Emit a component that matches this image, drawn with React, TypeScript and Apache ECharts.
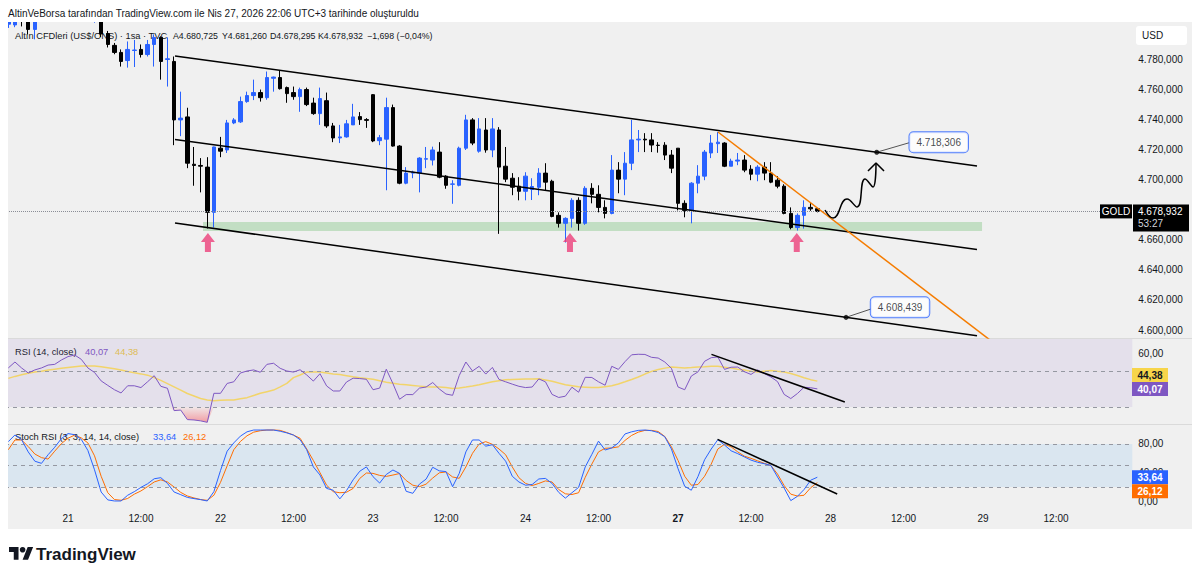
import React, { useEffect, useRef } from "react";
import * as echarts from "echarts";

// ---------------- time axis (bar index 0 = 21 Apr, first hourly bar) ----------------
const FIRST_BAR = -9;
const LAST_SLOT = 160;
const timeTickBars = [0, 11, 23, 34, 46, 57, 69, 80, 92, 103, 115, 126, 138, 149];
const timeTickLabels = ["21", "12:00", "22", "12:00", "23", "12:00", "24", "12:00", "27", "12:00", "28", "12:00", "29", "12:00"];
const boldTickLabels = ["27"];

// ---------------- candles (bars -9 .. 113) ----------------
const barOpen = [
  4803.5, 4803, 4815, 4815, 4800, 4808, 4815, 4822, 4818, 4824,
  4828, 4825, 4820, 4813, 4815, 4797.3, 4789.4, 4784.7, 4779.3, 4786,
  4786.7, 4783.3, 4790, 4794.7, 4780, 4778.7, 4739.8, 4741.8, 4710.3, 4709.5,
  4708.4, 4678.3, 4721, 4719.8, 4737.8, 4738.5, 4752, 4756, 4758, 4754.6,
  4767.5, 4768, 4761.3, 4758, 4755.3, 4760, 4751, 4744, 4752.6, 4735.8,
  4727.8, 4728.5, 4736.5, 4742, 4740, 4756.6, 4726, 4727, 4748, 4722.4,
  4697.7, 4704.4, 4704.4, 4713.7, 4713.1, 4718.4, 4702.4, 4697, 4696.3, 4721,
  4739.8, 4719, 4733.1, 4719.8, 4733.1, 4709, 4701, 4695.7, 4692.3, 4693.5,
  4695, 4704.4, 4699, 4676.3, 4671, 4674.3, 4686.3, 4671, 4694.3, 4690.3,
  4681.6, 4677.6, 4706.4, 4700.4, 4711, 4726.5, 4727, 4726.5, 4723, 4723,
  4716.4, 4721, 4684.3, 4679.6, 4697.7, 4702.4, 4717.8, 4724, 4724.4, 4709,
  4712.4, 4713.1, 4707, 4703.7, 4708.4, 4704.4, 4699.7, 4695.7, 4677.6, 4668.2,
  4676.3, 4681.6, 4680.725,
];
const barHigh = [
  4809, 4810, 4818, 4818, 4812, 4820, 4826, 4828, 4829, 4833,
  4832, 4829, 4823, 4818, 4817, 4799, 4791, 4786.7, 4792, 4793,
  4790, 4793, 4796.7, 4795.4, 4794.7, 4782, 4758.6, 4747.9, 4721.8, 4714.4,
  4715, 4722, 4728.5, 4739.8, 4741, 4755.3, 4758.6, 4766.6, 4760, 4772,
  4768.6, 4772.6, 4762, 4762, 4761.3, 4761.3, 4754.6, 4761.3, 4758, 4737.8,
  4736.5, 4739.8, 4750.5, 4745, 4741, 4757, 4729.8, 4754.6, 4750, 4723,
  4708.4, 4706, 4715, 4721.8, 4722, 4725, 4703, 4699.7, 4722, 4743.2,
  4741, 4741, 4741, 4741, 4735, 4721.8, 4704.4, 4701.7, 4705, 4701,
  4707.7, 4711, 4700, 4678.3, 4675, 4687.7, 4688.3, 4695.7, 4697.7, 4696.3,
  4686.3, 4716.4, 4711.7, 4718.4, 4739.8, 4733.1, 4731, 4731, 4725, 4725,
  4719.8, 4721, 4686.3, 4698.4, 4709.7, 4719.8, 4729.8, 4731.8, 4725, 4714,
  4717.8, 4716.4, 4709.7, 4709.7, 4711.7, 4711.7, 4702.4, 4697, 4681.6, 4677.6,
  4686.3, 4684.9, 4681.26,
];
const barLow = [
  4801, 4801.5, 4802, 4796.7, 4793.4, 4806.5, 4811, 4814, 4815, 4820,
  4819, 4814, 4808, 4804.5, 4795, 4788, 4783.5, 4775.3, 4774.6, 4775,
  4781.3, 4782, 4775.3, 4766.6, 4762, 4723, 4729, 4707.7, 4696, 4691.6,
  4667.6, 4668.2, 4715, 4717.8, 4737, 4737.8, 4751.2, 4753, 4752, 4753.2,
  4758.6, 4760, 4751.2, 4753.2, 4745.2, 4749, 4743.2, 4736.5, 4734.5, 4725,
  4724.4, 4728, 4736.5, 4736.5, 4734.5, 4725, 4723, 4693, 4722, 4697,
  4697, 4701, 4691.6, 4707.7, 4709.5, 4701, 4694, 4684, 4695.6, 4719.8,
  4723, 4718, 4718, 4715, 4664, 4698.4, 4689.7, 4686.3, 4686.3, 4686.5,
  4689.7, 4693, 4675, 4668.2, 4658.2, 4668.2, 4666.2, 4670, 4684.3, 4678.3,
  4674.3, 4677, 4691, 4689.7, 4706.4, 4718.4, 4718.4, 4718.4, 4718, 4713.1,
  4704.4, 4679.6, 4675, 4671, 4691, 4699.7, 4714.4, 4717.8, 4708.4, 4709,
  4709.7, 4705, 4699.7, 4699, 4699.7, 4697.7, 4694.3, 4677, 4667, 4666.2,
  4667.5, 4679.3, 4678.295,
];
const barClose = [
  4805.5, 4806, 4812, 4800, 4808, 4815, 4822, 4818, 4824, 4828,
  4825, 4820, 4813, 4815, 4797, 4790, 4784.7, 4778.7, 4786.7, 4786.3,
  4783.3, 4790, 4794.7, 4778.7, 4780.5, 4739.8, 4741, 4711, 4709.5, 4709,
  4678.3, 4721.8, 4719, 4737.8, 4739.8, 4752, 4756, 4758, 4754.6, 4768,
  4768.3, 4760.6, 4757.3, 4755.3, 4760, 4750, 4744, 4754, 4735.8, 4727.8,
  4728.5, 4737.2, 4741.8, 4740, 4739.5, 4725.8, 4728, 4748, 4722.4, 4697.7,
  4704.4, 4705, 4714.4, 4714, 4719.8, 4701.7, 4696.3, 4697.2, 4721, 4739.8,
  4724.4, 4733.8, 4719.8, 4733.8, 4708.4, 4700.4, 4695, 4692.3, 4702.4, 4695.5,
  4704.4, 4698.4, 4675.6, 4671, 4674.3, 4686.3, 4671, 4694.3, 4690.3, 4681.6,
  4677.6, 4706.4, 4700.4, 4711, 4726.5, 4727, 4726.5, 4723.1, 4722.8, 4716.4,
  4707.7, 4684.3, 4679.6, 4697.7, 4702.4, 4718.4, 4724.4, 4725, 4709, 4712.4,
  4713.1, 4706.4, 4703.7, 4708.4, 4704.4, 4698.4, 4695.7, 4677.6, 4668.2, 4676.3,
  4681.6, 4680.63, 4678.932,
];

// ---------------- RSI (14) and its MA ----------------
const rsiValues = [
  51.7, 55, 51.7, 48.9, 50.6, 51.7, 53.3, 53.7, 56.1, 58,
  58.9, 56.5, 51.7, 49.2, 44.5, 42, 39.6, 37.8, 41.8, 41.8,
  40.8, 44, 47.4, 41.5, 40.4, 28, 28.3, 23, 22.8, 22.3,
  21.5, 37.6, 37.6, 43.1, 44, 48.9, 50, 50.6, 49.3, 53.7,
  54.3, 51.5, 50, 49.4, 50.7, 47.8, 44.4, 48.5, 41.7, 38.9,
  38.9, 43.9, 46, 45.8, 45.4, 39.6, 40.5, 51, 43, 34.3,
  36.9, 36.9, 40.5, 41.1, 43.6, 40, 37.2, 36.5, 47.5, 55,
  50, 52.6, 48.3, 52, 45.3, 44, 42.7, 41.5, 40.8, 41.1,
  45.6, 44, 37, 35.3, 36, 41, 38.2, 46.5, 46.4, 44,
  42.1, 52.6, 50.9, 55.2, 59, 59.3, 59.2, 57.6, 57.2, 55,
  51.5, 41.1, 39.6, 47.2, 49.5, 55.4, 57.4, 57.8, 50.9, 52.1,
  52.2, 49.6, 48.1, 50.6, 48.6, 46.7, 44.1, 37, 34.7, 37.5,
  41, 40.7, 40.07,
];
const rsiMaValues = [
  45.9, 47, 47.9, 48.8, 49.4, 49.9, 50.5, 51, 51.5, 52,
  52.4, 52.8, 52.8, 52.8, 52.3, 51.8, 51.2, 50.5, 49.7, 49,
  48.4, 47.7, 46.3, 44.8, 43, 41.2, 39.4, 37.5, 36.1, 34.7,
  33.9, 33.5, 33.8, 33.9, 33.9, 34.6, 35.2, 36.4, 37.6, 38.5,
  39.4, 41.2, 43.1, 46.3, 47.8, 49.4, 49.4, 49.4, 48.9, 48.4,
  48, 47.4, 46.8, 46.3, 45.9, 45.4, 44.6, 43.8, 43.2, 42.6,
  42.3, 42, 41.6, 41.2, 41.1, 41.1, 40.8, 40.3, 40.6, 41.1,
  41.7, 42.4, 43.2, 44, 44.6, 45.1, 45.3, 45.4, 45.5, 45.6,
  45.7, 45, 44.3, 43.3, 42.4, 41.8, 41.2, 41, 40.8, 40.8,
  41.3, 41.8, 42.8, 44, 45.3, 46.7, 48.3, 49.8, 50.8, 51.6,
  52.2, 52, 51.7, 51.9, 52.2, 52.4, 52.7, 52.6, 52.1, 51.6,
  51, 50.5, 49.9, 49.4, 49.9, 50.3, 49.8, 49.5, 48.6, 47.5,
  46.3, 45.2, 44.38,
];

// ---------------- Stoch RSI (3, 3, 14, 14) ----------------
const stochK = [
  83.3, 92.6, 86, 69, 56, 53, 65, 75.5, 87.5, 94.5,
  93, 86.5, 71, 44, 13, 2, 0.5, 0.5, 8.5, 13.5,
  19.5, 24.5, 31.5, 33, 25, 13, 9.3, 5.5, 3.8, 2.4,
  0.5, 13.5, 43, 70, 81.5, 91, 97, 99.5, 99.5, 99.5,
  99.5, 97.8, 95.5, 92.5, 86, 72, 48, 36.8, 18, 15.5,
  3.5, 15, 30, 42, 48, 34.4, 25.5, 37.5, 43.7, 39,
  14, 11.2, 24, 31, 47.5, 42.5, 41.5, 20.5, 39, 69,
  85.6, 85.6, 77, 79, 67, 56, 35, 27, 22.5, 23.5,
  31.2, 32, 25, 12.5, 4.5, 12, 19.5, 48, 65.5, 84,
  71.6, 74.5, 81.5, 94, 97, 99, 99.5, 98.5, 96, 90,
  73, 45.5, 21, 15.5, 34.5, 58, 73, 86, 78.6, 70.5,
  66.5, 62, 57.5, 54.5, 52.5, 50, 34, 18.5, 1, 7,
  16.5, 29.5, 33.64,
];
const stochD = [
  72, 85.6, 85.6, 76.5, 66, 61, 59, 70, 80.5, 88,
  92.4, 88.5, 81.5, 63.5, 35, 12, 2.5, 1.5, 4, 10,
  14.5, 20.5, 27, 30, 27, 20, 12.5, 7.5, 4.7, 2.5,
  1.4, 8.5, 26.5, 49.5, 72, 83.5, 91.5, 96.5, 98.5, 99.5,
  99.5, 99, 96, 92.5, 88, 73, 57, 40, 22.5, 13.5,
  12, 12.7, 18, 32, 39.5, 39, 36.2, 34.8, 36.7, 38.8,
  29, 22.5, 20.5, 24, 32.5, 39.8, 41, 34, 32.1, 48,
  67, 80, 83.3, 79.5, 73, 65, 48, 33, 25, 22,
  25, 28.5, 27, 16.5, 10.5, 9.5, 12, 33.5, 52, 69,
  74, 74.5, 76, 85, 92, 96.5, 99, 99, 97.4, 90.5,
  76, 57, 35, 22.5, 23.5, 35, 52, 73, 79.5, 76,
  69, 63, 60, 56.5, 53, 50, 38, 22, 10, 7.4,
  8.5, 19, 26.12,
];

// ---------------- axis ticks / levels ----------------
const priceTicks = [4600, 4620, 4640, 4660, 4680, 4700, 4720, 4740, 4760, 4780];
const rsiTicks = [60];
const stochTicks = [0, 40, 80];
const rsiLevels = [50, 30];
const rsiBand = [30, 70];
const rsiOversold = 30;
const stochLevels = [80, 50, 20];
const stochBand = [20, 80];

// ---------------- drawings, in [bar index, price] ----------------
const channelUpper = [[16.14, 4782.33], [137.08, 4709.14]];
const channelMiddle = [[16.14, 4726.77], [137.08, 4653.59]];
const channelLower = [[16.14, 4671.22], [137.08, 4596.17]];
const orangeTrend = [[98.02, 4731.76], [139.04, 4593.37]];
const supportZone = { from: [20.36, 4665.89], to: [137.84, 4671.88] };
const arrowMarks = [[21.1, 4658.24], [75.7, 4658.24], [109.9, 4658.24]];
const targetUp = { point: [121.96, 4718.306], link: [126.87, 4724.64] };
const targetDown = { point: [117.33, 4608.439], link: [121.1, 4613.99] };
const wavePath = [[114.16, 4679.87], [115.37, 4674.55], [117.48, 4687.19], [118.99, 4681.87], [120.19, 4700.5], [121.4, 4695.18], [121.85, 4711.14]];
const waveHead = [[120.64, 4705.82], [121.85, 4711.14], [123.06, 4705.82]];
const rsiTrend = [[97.04, 59.25], [117.15, 32.8]];
const stochTrend = [[97.96, 86.5], [116.0, 10.2]];

// ---------------- layout ----------------
const FONT = '"Liberation Sans", Arial, sans-serif';
const GRID_LEFT = 5;
const GRID_RIGHT = 67.7;
const PANE_MAIN = { top: 22, height: 316, min: 4594.7, max: 4804.95 };
const PANE_RSI = { top: 339, height: 85, min: 20.56, max: 67.78 };
const PANE_ST = { top: 425, height: 82, min: -7.9, max: 106.5 };
const TEXT = "#131722";
const UP = "#2962ff";
const DOWN = "#000000";
const LEGEND_FONT = `9.3px ${FONT}`;
const VALUE_FONT = `8.8px ${FONT}`;

const TV_LOGO_D = "M14 22H7V11H0V4h14v18zM28 22h-8l7.5-18h8L28 22z";
echarts.graphic.registerShape("tvlogo", echarts.graphic.extendPath(TV_LOGO_D, {}));

function trNum(v: number, d: number): string {
  const [a, b] = Math.abs(v).toFixed(d).split(".");
  const int = a.replace(/\B(?=(\d{3})+(?!\d))/g, ".");
  return (v < 0 ? "\u2212" : "") + int + (b ? "," + b : "");
}
function toY(p: { top: number; height: number; min: number; max: number }, v: number) {
  return p.top + ((p.max - v) / (p.max - p.min)) * p.height;
}
function txt(text: string, x: number, y: number, fill: string, font: string, align = "left", z = 1) {
  return {
    type: "text", x, y, z, silent: true,
    style: { text, fill, font, align, verticalAlign: "middle", textAlign: align, textVerticalAlign: "middle" },
  };
}

function buildOption() {
  const categories: string[] = [];
  for (let i = FIRST_BAR; i <= LAST_SLOT; i++) categories.push(String(i));
  const labelAt: Record<number, string> = {};
  timeTickBars.forEach((b, k) => (labelAt[b - FIRST_BAR] = timeTickLabels[k]));

  const candles = barOpen.map((o, j) => [o, barClose[j], barLow[j], barHigh[j]]);
  const lastIdx = barClose.length - 1;
  const lastClose = barClose[lastIdx];
  const prevClose = barClose[lastIdx - 1];
  const chg = lastClose - prevClose;

  const xVal = (grid: number) => ({ type: "value", gridIndex: grid, min: FIRST_BAR - 0.5, max: LAST_SLOT + 0.5, show: false });
  const xCat = (grid: number) => ({ type: "category", gridIndex: grid, data: categories, show: false });
  const yAx = (grid: number, pane: any, ticks: number[], dec: number) => ({
    type: "value", gridIndex: grid, position: "right", min: pane.min, max: pane.max,
    splitLine: { show: false }, axisLine: { show: false }, axisTick: { show: false },
    axisLabel: { customValues: ticks, formatter: (v: number) => trNum(v, dec), color: TEXT, fontSize: 10, fontFamily: FONT, margin: 6 },
  });

  const lineSeries = (xi: number, yi: number, data: number[][], color: string, width: number, extra: any = {}) => ({
    type: "line", xAxisIndex: xi, yAxisIndex: yi, data, symbol: "none", silent: true, clip: true,
    lineStyle: { color, width }, z: 5, ...extra,
  });
  const dashed = { type: [4, 4], color: "#9598a1", width: 1 };

  const osGradient = new echarts.graphic.LinearGradient(0, 0, 0, 1, [
    { offset: 0, color: "rgba(242,54,69,0.05)" },
    { offset: 1, color: "rgba(242,54,69,0.45)" },
  ]);

  const calloutLabel = (dx: number, dy: number) => ({
    show: true, position: "inside", offset: [dx, dy],
    formatter: (p: any) => trNum(p.value[1], 3),
    backgroundColor: "#ffffff", borderColor: UP, borderWidth: 1, borderRadius: 4,
    padding: [5, 7], color: TEXT, fontSize: 10, fontFamily: FONT,
  });

  // ---- price-scale tags ----
  const yLast = toY(PANE_MAIN, lastClose);
  const rsiLast = rsiValues[lastIdx];
  const maLast = rsiMaValues[lastIdx];
  const yRsi = toY(PANE_RSI, rsiLast);
  let yMa = toY(PANE_RSI, maLast);
  if (Math.abs(yMa - yRsi) < 14) yMa = yMa < yRsi ? yRsi - 14 : yRsi + 14;
  const kLast = stochK[lastIdx];
  const dLast = stochD[lastIdx];
  const yK = toY(PANE_ST, kLast);
  let yD = toY(PANE_ST, dLast);
  if (Math.abs(yD - yK) < 14) yD = yD < yK ? yK - 14 : yK + 14;
  const tag = (y: number, bg: string, fg: string, text: string) => [
    { type: "rect", z: 50, silent: true, shape: { x: 1132, y: y - 7, width: 36, height: 14 }, style: { fill: bg } },
    txt(text, 1150, y + 0.5, fg, `bold 10px ${FONT}`, "center", 51),
  ];

  const graphic: any[] = [
    { type: "rect", z: -10, silent: true, shape: { x: 8, y: 22, width: 1184, height: 507 }, style: { fill: "#f0f0f0" } },
    // page margins stay white above / left of the chart pane (candles poking out are covered)
    { type: "rect", z: 40, silent: true, shape: { x: 0, y: 0, width: 1200, height: 22 }, style: { fill: "#ffffff" } },
    { type: "rect", z: 40, silent: true, shape: { x: 0, y: 0, width: 8, height: 579 }, style: { fill: "#ffffff" } },
    { type: "line", z: 0, silent: true, shape: { x1: 8, y1: 338.5, x2: 1192, y2: 338.5 }, style: { stroke: "#dadada", lineWidth: 1 } },
    { type: "line", z: 0, silent: true, shape: { x1: 8, y1: 424.5, x2: 1192, y2: 424.5 }, style: { stroke: "#dadada", lineWidth: 1 } },
    txt("AltinVeBorsa tarafından TradingView.com ile Nis 27, 2026 22:06 UTC+3 tarihinde oluşturuldu", 8, 13, TEXT, `10px ${FONT}`, "left", 41),
    txt("Altın CFDleri (US$/ONS) · 1sa · TVC", 15, 35.5, TEXT, LEGEND_FONT),
    txt("A" + trNum(barOpen[lastIdx], 3), 173, 35.5, TEXT, VALUE_FONT),
    txt("Y" + trNum(barHigh[lastIdx], 3), 222, 35.5, TEXT, VALUE_FONT),
    txt("D" + trNum(barLow[lastIdx], 3), 270, 35.5, TEXT, VALUE_FONT),
    txt("K" + trNum(lastClose, 3), 318, 35.5, TEXT, VALUE_FONT),
    txt(`${trNum(chg, 3)} (${trNum((chg / prevClose) * 100, 2)}%)`, 367, 35.5, TEXT, VALUE_FONT),
    txt("RSI (14, close)", 15, 352, TEXT, LEGEND_FONT),
    txt(trNum(rsiLast, 2), 85, 352, "#7e57c2", LEGEND_FONT),
    txt(trNum(maLast, 2), 115, 352, "#e9c84a", LEGEND_FONT),
    txt("Stoch RSI (3, 3, 14, 14, close)", 15, 437, TEXT, LEGEND_FONT),
    txt(trNum(kLast, 2), 153, 437, UP, LEGEND_FONT),
    txt(trNum(dLast, 2), 183, 437, "#ff6d00", LEGEND_FONT),
    { type: "rect", z: 50, silent: true, shape: { x: 1136, y: 26, width: 51, height: 19, r: 3 }, style: { fill: "#ffffff" } },
    txt("USD", 1142, 35.5, TEXT, `10px ${FONT}`, "left", 51),
    { type: "rect", z: 50, silent: true, shape: { x: 1100, y: yLast - 7, width: 32, height: 14 }, style: { fill: "#000000" } },
    txt("GOLD", 1116, yLast + 0.5, "#ffffff", `10px ${FONT}`, "center", 51),
    { type: "rect", z: 50, silent: true, shape: { x: 1133, y: yLast - 7, width: 56, height: 27 }, style: { fill: "#000000" } },
    txt(trNum(lastClose, 3), 1138, yLast + 0.5, "#ffffff", `10px ${FONT}`, "left", 51),
    txt("53:27", 1138, yLast + 12.5, "#d1d4dc", `10px ${FONT}`, "left", 51),
    ...tag(yMa, "#f7d54a", TEXT, trNum(maLast, 2)),
    ...tag(yRsi, "#7e57c2", "#ffffff", trNum(rsiLast, 2)),
    ...tag(yK, UP, "#ffffff", trNum(kLast, 2)),
    ...tag(yD, "#ff6d00", "#ffffff", trNum(dLast, 2)),
    { type: "tvlogo", x: 9, y: 544, scaleX: 0.68, scaleY: 0.72, z: 1, silent: true, style: { fill: TEXT } },
    { type: "circle", z: 1, silent: true, shape: { cx: 9 + 20 * 0.68, cy: 544 + 8 * 0.72, r: 2.8 }, style: { fill: TEXT } },
    txt("TradingView", 36, 554, TEXT, `bold 17px ${FONT}`),
  ];

  return {
    animation: false,
    backgroundColor: "#ffffff",
    textStyle: { fontFamily: FONT },
    grid: [
      { left: GRID_LEFT, right: GRID_RIGHT, top: PANE_MAIN.top, height: PANE_MAIN.height },
      { left: GRID_LEFT, right: GRID_RIGHT, top: PANE_RSI.top, height: PANE_RSI.height },
      { left: GRID_LEFT, right: GRID_RIGHT, top: PANE_ST.top, height: PANE_ST.height },
    ],
    xAxis: [
      xCat(0), xVal(0), xCat(1), xVal(1),
      {
        type: "category", gridIndex: 2, data: categories,
        axisLine: { show: false }, axisTick: { show: false }, splitLine: { show: false },
        axisLabel: {
          interval: 0, margin: 6, color: TEXT, fontSize: 10, fontFamily: FONT,
          formatter: (_v: string, idx: number) => {
            const l = labelAt[idx];
            if (!l) return "";
            return boldTickLabels.includes(l) ? `{b|${l}}` : l;
          },
          rich: { b: { fontWeight: "bold", fontSize: 10, fontFamily: FONT, color: TEXT } },
        },
      },
      xVal(2),
    ],
    yAxis: [yAx(0, PANE_MAIN, priceTicks, 3), yAx(1, PANE_RSI, rsiTicks, 2), yAx(2, PANE_ST, stochTicks, 2)],
    graphic: { elements: graphic },
    series: [
      // ---- main pane ----
      {
        type: "line", xAxisIndex: 1, yAxisIndex: 0, data: [], symbol: "none", silent: true,
        markArea: {
          silent: true, itemStyle: { color: "rgba(76,175,80,0.28)" },
          data: [[{ coord: supportZone.from }, { coord: supportZone.to }]],
        },
      },
      {
        type: "candlestick", xAxisIndex: 0, yAxisIndex: 0, data: candles, barWidth: 4, z: 3, clip: true,
        itemStyle: { color: UP, color0: DOWN, borderColor: UP, borderColor0: DOWN, borderWidth: 1 },
        markLine: {
          silent: true, symbol: ["none", "none"], label: { show: false },
          lineStyle: { type: "dotted", color: "#8a8d96", width: 1 },
          data: [{ yAxis: lastClose }],
        },
      },
      lineSeries(1, 0, channelUpper, "#000000", 1.5),
      lineSeries(1, 0, channelMiddle, "#000000", 1.5),
      lineSeries(1, 0, channelLower, "#000000", 1.5),
      lineSeries(1, 0, orangeTrend, "#f57c00", 1.5),
      lineSeries(1, 0, wavePath, "#000000", 1.5, { smooth: 0.5 }),
      lineSeries(1, 0, waveHead, "#000000", 1.5),
      lineSeries(1, 0, [targetUp.point, targetUp.link], "#555555", 1),
      lineSeries(1, 0, [targetDown.point, targetDown.link], "#555555", 1),
      {
        type: "scatter", xAxisIndex: 1, yAxisIndex: 0, silent: true, z: 6,
        symbol: "path://M7,0L14,9L10,9L10,19L4,19L4,9L0,9Z", symbolSize: [14, 19],
        itemStyle: { color: "#ec407a" }, data: arrowMarks,
      },
      {
        type: "scatter", xAxisIndex: 1, yAxisIndex: 0, silent: true, z: 7,
        symbol: "circle", symbolSize: 5, itemStyle: { color: "#000000" },
        data: [
          { value: targetUp.point, label: calloutLabel(62, -10) },
          { value: targetDown.point, label: calloutLabel(54, -10) },
        ],
      },
      // ---- RSI pane ----
      {
        type: "line", xAxisIndex: 2, yAxisIndex: 1, data: rsiValues.map((v) => Math.min(v, rsiOversold)),
        stack: "os", symbol: "none", silent: true, lineStyle: { width: 0, opacity: 0 }, z: 2,
        markArea: {
          silent: true, itemStyle: { color: "rgba(126,87,194,0.1)" },
          data: [[{ yAxis: rsiBand[0] }, { yAxis: Math.min(rsiBand[1], PANE_RSI.max) }]],
        },
        markLine: { silent: true, symbol: ["none", "none"], label: { show: false }, lineStyle: dashed, data: rsiLevels.map((v) => ({ yAxis: v })) },
      },
      {
        type: "line", xAxisIndex: 2, yAxisIndex: 1, data: rsiValues.map((v) => rsiOversold - Math.min(v, rsiOversold)),
        stack: "os", symbol: "none", silent: true, lineStyle: { width: 0, opacity: 0 }, areaStyle: { color: osGradient, opacity: 1 }, z: 2,
      },
      lineSeries(2, 1, rsiMaValues as any, "#f2d46a", 1.5, { z: 4 }),
      lineSeries(2, 1, rsiValues as any, "#7e57c2", 1, { z: 5 }),
      lineSeries(3, 1, rsiTrend, "#000000", 1.5, { z: 6 }),
      // ---- Stoch RSI pane ----
      lineSeries(4, 2, stochD as any, "#ff6d00", 1, {
        z: 4,
        markArea: {
          silent: true, itemStyle: { color: "rgba(33,150,243,0.1)" },
          data: [[{ yAxis: stochBand[0] }, { yAxis: stochBand[1] }]],
        },
        markLine: { silent: true, symbol: ["none", "none"], label: { show: false }, lineStyle: dashed, data: stochLevels.map((v) => ({ yAxis: v })) },
      }),
      lineSeries(4, 2, stochK as any, UP, 1, { z: 5 }),
      lineSeries(5, 2, stochTrend, "#000000", 1.5, { z: 6 }),
    ],
  };
}

export default function App() {
  const ref = useRef<HTMLDivElement>(null);
  useEffect(() => {
    if (!ref.current) return;
    const chart = echarts.init(ref.current, undefined, { renderer: "svg" });
    chart.setOption(buildOption() as any);
    return () => chart.dispose();
  }, []);
  return <div ref={ref} style={{ position: "absolute", left: 0, top: 0, width: 1200, height: 579 }} />;
}
